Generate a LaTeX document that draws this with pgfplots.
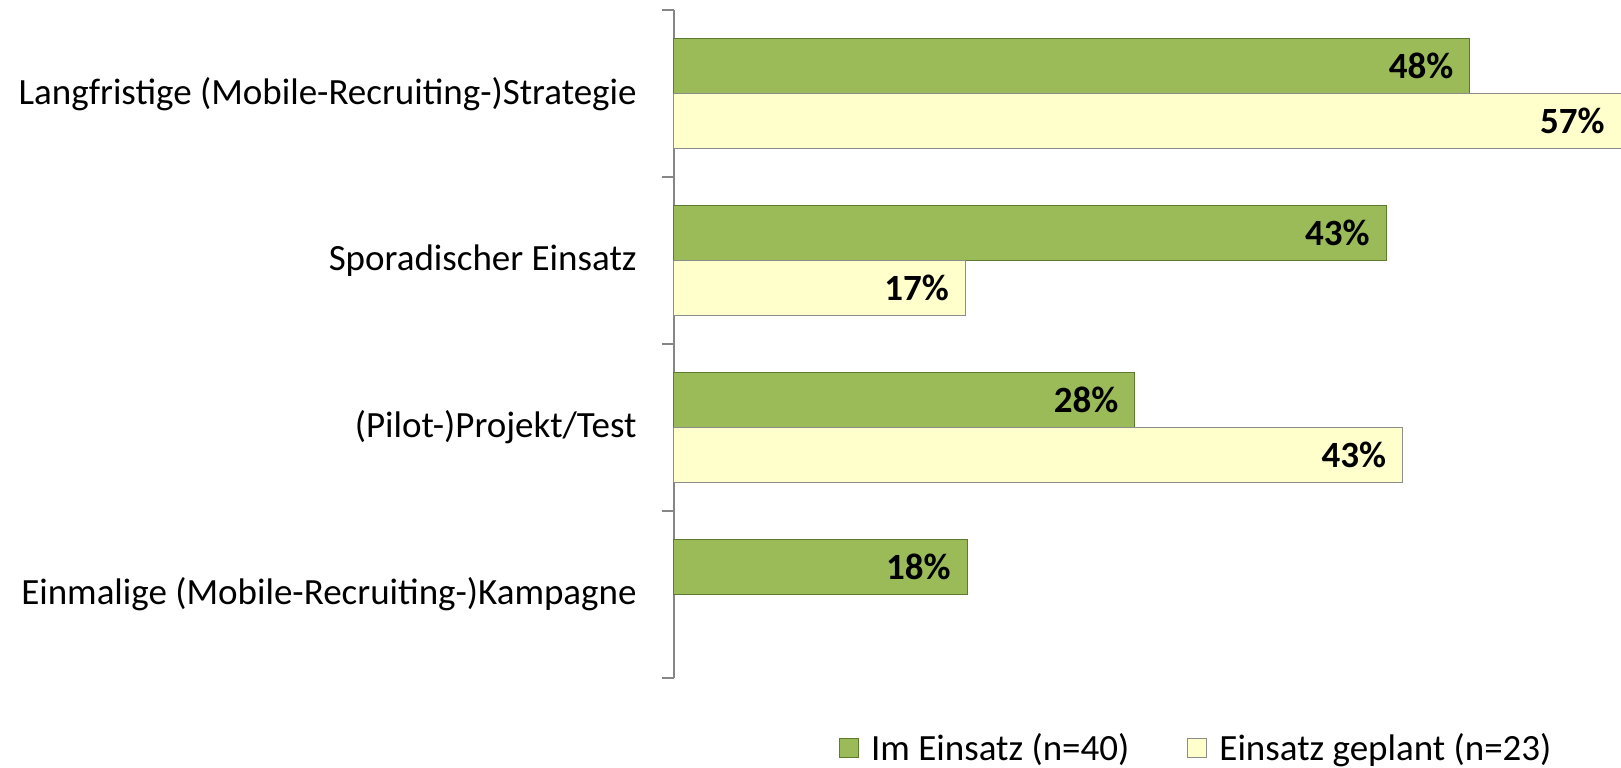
\documentclass[border=0pt]{standalone}
\usepackage{fontspec}
\setmainfont{Carlito}
\usepackage{pgfplots}
\pgfplotsset{compat=1.18}
\usetikzlibrary{calc}
\definecolor{grn}{HTML}{9BBB59}
\definecolor{grnb}{HTML}{5E7A2E}
\definecolor{ylw}{HTML}{FFFFCC}
\definecolor{ylwb}{HTML}{8C8C8C}
\definecolor{axc}{HTML}{868686}
\begin{document}
\begin{tikzpicture}
\begin{axis}[
 name=ax,
 scale only axis,
 width=473.5pt, height=333.85pt,
 xbar=0pt, bar width=27.5pt,
 xmin=0, xmax=56.52,
 ymin=-0.5, ymax=3.5, y dir=reverse,
 axis x line=none,
 axis y line*=left,
 axis line style={draw=axc, line width=1pt, -},
 ytick={0,1,2,3},
 yticklabels={Langfristige (Mobile-Recruiting-)Strategie, Sporadischer Einsatz, (Pilot-)Projekt/Test, Einmalige (Mobile-Recruiting-)Kampagne},
 major tick length=0pt,
 minor ytick={-0.5,0.5,1.5,2.5,3.5},
 minor tick length=6pt,
 tick align=outside,
 minor tick style={draw=axc, line width=1pt},
 yticklabel style={anchor=east, inner sep=0pt, xshift=-18.5pt, font=\fontsize{18.5}{22}\selectfont},
 point meta=explicit symbolic,
 nodes near coords,
 nodes near coords style={anchor=east, inner sep=0pt, xshift=-8pt, font=\fontsize{18.5}{22}\selectfont\bfseries, text=black},
 clip=false,
 legend columns=2,
 legend style={draw=none, fill=none, at={(0.174,-0.105)}, anchor=west, inner sep=0pt, font=\fontsize{18.5}{22}\selectfont, /tikz/every odd column/.append style={column sep=4pt}, /tikz/every even column/.append style={column sep=27pt}},
 legend image code/.code={\draw[#1] (0pt,-4.75pt) rectangle (9.5pt,4.75pt);},
]
\addplot[fill=grn, draw=grnb, line width=0.5pt, bar shift=13.75pt] coordinates {(47.5,0) [48\%] (42.5,1) [43\%] (27.5,2) [28\%] (17.5,3) [18\%]};
\addplot[fill=ylw, draw=ylwb, line width=0.5pt, bar shift=-13.75pt] coordinates {(56.52,0) [57\%] (17.39,1) [17\%] (43.48,2) [43\%]};
\legend{Im Einsatz (n=40), Einsatz geplant (n=23)}
\end{axis}
\pgfresetboundingbox
\path ($(ax.south west)+(-337pt,-45pt)$) rectangle ($(ax.north east)+(0pt,5.15pt)$);
\end{tikzpicture}
\end{document}
